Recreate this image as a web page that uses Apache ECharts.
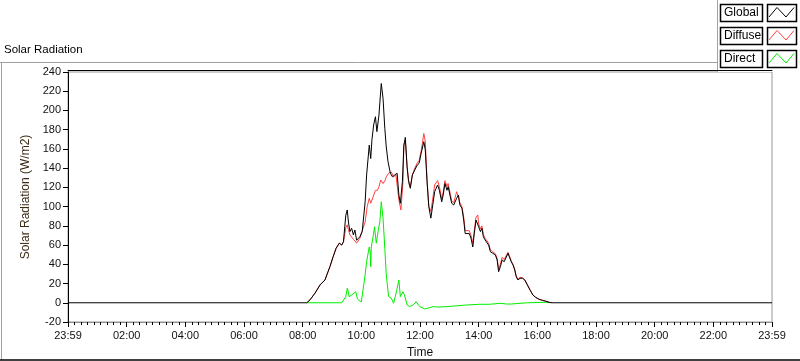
<!DOCTYPE html>
<html>
<head>
<meta charset="utf-8">
<title>Solar Radiation</title>
<script src="https://cdn.jsdelivr.net/npm/echarts@6/dist/echarts.min.js"></script>
<style>
  html, body { margin: 0; padding: 0; background: #fff; }
  #chart { width: 800px; height: 361px; }
</style>
</head>
<body>
<div id="chart"></div>
<script>
// values: [hour of day, W/m2]
const globalData = [
  [0, 0], [8.14, 0], [8.25, 3], [8.42, 10], [8.59, 18.5], [8.76, 23.7], [8.93, 37.6], [9.04, 48],
  [9.14, 56.7], [9.25, 62], [9.33, 60], [9.39, 63.5], [9.47, 91], [9.52, 96.5], [9.56, 84],
  [9.61, 74], [9.67, 77.5], [9.73, 70.5], [9.78, 75.7], [9.84, 65], [9.9, 67], [9.95, 68.7],
  [10.03, 74], [10.13, 105], [10.18, 133], [10.27, 164], [10.32, 150], [10.36, 169], [10.42, 185],
  [10.48, 193.5], [10.53, 178], [10.6, 195], [10.68, 228], [10.74, 212.7], [10.8, 181.5],
  [10.85, 162], [10.91, 146.7], [10.99, 134.7], [11.06, 131], [11.14, 133], [11.22, 134.7],
  [11.28, 112], [11.33, 103.5], [11.4, 126], [11.45, 164], [11.5, 172], [11.56, 141.5],
  [11.61, 126], [11.67, 119], [11.74, 133], [11.82, 138], [11.9, 143], [11.97, 145],
  [12.04, 155.5], [12.13, 167.5], [12.18, 159], [12.24, 126], [12.3, 100], [12.37, 88],
  [12.42, 89.5], [12.5, 115.5], [12.55, 119], [12.6, 122.5], [12.66, 117], [12.74, 105],
  [12.79, 112], [12.85, 124], [12.92, 117], [12.96, 120.7], [13.02, 120.7], [13.08, 103.5],
  [13.15, 101.7], [13.2, 100], [13.25, 108.7], [13.31, 112], [13.36, 101.7], [13.43, 98.3],
  [13.49, 86], [13.54, 72], [13.6, 70.5], [13.68, 72], [13.74, 67], [13.8, 58], [13.85, 72],
  [13.91, 86], [13.97, 88], [14.0, 79], [14.06, 74], [14.11, 77.5], [14.16, 68.7], [14.22, 65.3],
  [14.28, 65.3], [14.34, 60], [14.4, 53], [14.48, 51.5], [14.57, 49.7], [14.63, 44.5],
  [14.68, 32.3], [14.74, 37.5], [14.8, 44.5], [14.87, 42.7], [14.92, 42.7], [15.0, 51.5],
  [15.06, 49.7], [15.11, 42.7], [15.17, 39.3], [15.23, 34], [15.28, 27], [15.34, 23.7],
  [15.41, 25.5], [15.49, 25.5], [15.57, 23.7], [15.66, 18.5], [15.75, 13.3], [15.85, 8],
  [15.94, 5.7], [16.06, 3.6], [16.17, 2.6], [16.29, 1.6], [16.4, 0.5], [16.5, 0], [24, 0]
];

// diffuse and direct only show where they leave the global trace at zero
const diffuseData = [
  [8.14, 0], [8.25, 3], [8.42, 10], [8.59, 18.5], [8.76, 23.7], [8.93, 37.6], [9.04, 48],
  [9.14, 56.7], [9.25, 62], [9.33, 60], [9.39, 63], [9.47, 78], [9.52, 81], [9.56, 76],
  [9.61, 70.5], [9.67, 72], [9.73, 66], [9.78, 64], [9.84, 62], [9.9, 63], [9.95, 67],
  [10.03, 75], [10.13, 84], [10.2, 100], [10.27, 108.7], [10.32, 103.5], [10.4, 110],
  [10.48, 117], [10.55, 117], [10.6, 120.7], [10.66, 127.7], [10.74, 124], [10.82, 127.7],
  [10.85, 131], [10.93, 134.7], [11.02, 136], [11.1, 131], [11.18, 133], [11.28, 107],
  [11.35, 96.5], [11.42, 126], [11.45, 164], [11.5, 168], [11.56, 141.5], [11.61, 128],
  [11.67, 121], [11.74, 133], [11.82, 140], [11.9, 145], [11.97, 148], [12.04, 158],
  [12.13, 176], [12.18, 168], [12.24, 128], [12.3, 100], [12.37, 95], [12.42, 105],
  [12.5, 122.5], [12.55, 122], [12.6, 127], [12.66, 121], [12.74, 108], [12.79, 115],
  [12.85, 127], [12.92, 121], [12.96, 124], [13.02, 123], [13.08, 106], [13.15, 104],
  [13.2, 103], [13.25, 115.5], [13.31, 114], [13.36, 104], [13.43, 100], [13.49, 89],
  [13.54, 75], [13.6, 73], [13.68, 75], [13.74, 70], [13.8, 62], [13.85, 75], [13.91, 89],
  [13.97, 91.3], [14.0, 82], [14.06, 77], [14.11, 80], [14.16, 71], [14.22, 67], [14.28, 67],
  [14.34, 62], [14.4, 55], [14.48, 53], [14.57, 51], [14.63, 46], [14.68, 35], [14.74, 40],
  [14.8, 47.3], [14.87, 45], [14.92, 44], [15.0, 52.5], [15.06, 50.5], [15.11, 43.5],
  [15.17, 40], [15.23, 35], [15.28, 28], [15.34, 24.5], [15.41, 26.5], [15.49, 26],
  [15.57, 24], [15.66, 19], [15.75, 13.5], [15.85, 8], [15.94, 5.7], [16.06, 3.6],
  [16.17, 2.6], [16.29, 1.6], [16.4, 0.5], [16.5, 0]
];

const directData = [
  [8.14, 0], [9.33, 0], [9.4, 3], [9.47, 6.4], [9.52, 15], [9.56, 11], [9.58, 6.4], [9.67, 8],
  [9.73, 6], [9.81, 11.5], [9.86, 4.7], [9.93, 2], [10.0, 1], [10.03, 3], [10.13, 29],
  [10.18, 43], [10.27, 58], [10.3, 53], [10.32, 37.5], [10.34, 58], [10.4, 68.7], [10.45, 79],
  [10.51, 62], [10.57, 74], [10.63, 84], [10.68, 105], [10.74, 88], [10.8, 56.7], [10.85, 29],
  [10.93, 6.4], [11.02, 4.7], [11.1, -0.5], [11.17, 8], [11.22, 15], [11.28, 23.7],
  [11.33, 6.4], [11.42, 11.5], [11.47, 8], [11.56, -2.3], [11.65, -4], [11.76, -2.3],
  [11.87, 1], [11.99, -4], [12.17, -6.5], [12.27, -5.7], [12.44, -4], [12.59, -4.5],
  [12.92, -4], [13.6, -2.3], [14.02, -1.6], [14.36, -1.6], [14.76, -0.5], [14.94, -1.3],
  [15.11, -1.3], [15.66, 0], [16.29, 0.5], [16.4, 0]
];

const xTickLabels = ['23:59', '02:00', '04:00', '06:00', '08:00', '10:00', '12:00',
  '14:00', '16:00', '18:00', '20:00', '22:00', '23:59'];
const legendNames = ['Global', 'Diffuse', 'Direct'];
const lineColors = ['#000000', '#ff4040', '#00ee00'];

const chart = echarts.init(document.getElementById('chart'));
const font = 'Liberation Sans, Arial, sans-serif';

// LabVIEW style legend: a text box and a swatch box per plot
const legendRows = [4, 27, 50];
const legendItems = [];
legendNames.forEach(function (name, i) {
  const y0 = legendRows[i];
  legendItems.push({
    type: 'rect',
    shape: { x: 720.5, y: y0 + 0.5, width: 42, height: 17 },
    style: { fill: '#fff', stroke: '#000', lineWidth: 1.5 }
  });
  legendItems.push({
    type: 'text',
    x: 724, y: y0 + 9,
    style: { text: name, font: '12px ' + font, fill: '#000', verticalAlign: 'middle' }
  });
  legendItems.push({
    type: 'rect',
    shape: { x: 767.5, y: y0 + 0.5, width: 29, height: 17 },
    style: { fill: '#fff', stroke: '#000', lineWidth: 1.5 }
  });
  legendItems.push({
    type: 'polyline',
    shape: { points: [[769, y0 + 13], [777, y0 + 3.5], [786, y0 + 13], [794, y0 + 3.5]] },
    style: { stroke: lineColors[i], lineWidth: 1, fill: null }
  });
});

const option = {
  animation: false,
  backgroundColor: '#fff',
  title: {
    text: 'Solar Radiation',
    left: 4, top: 44, padding: 0,
    textStyle: { fontSize: 11.5, fontWeight: 'normal', color: '#000', fontFamily: font }
  },
  grid: {
    left: 68, right: 28, top: 72, bottom: 39,
    containLabel: false,
    outerBoundsMode: 'none',
    show: true, borderColor: '#999', borderWidth: 1, backgroundColor: '#fff'
  },
  xAxis: [{
    type: 'value',
    min: 0, max: 24, interval: 2,
    axisLine: { show: true, onZero: false, lineStyle: { color: '#8c8c8c' } },
    axisTick: { show: true, length: 5, lineStyle: { color: '#000' } },
    minorTick: { show: true, splitNumber: 9, length: 3, lineStyle: { color: '#000' } },
    splitLine: { show: false },
    axisLabel: {
      formatter: function (v) { return xTickLabels[Math.round(v / 2)]; },
      showMinLabel: true, showMaxLabel: true,
      color: '#111', fontSize: 11, fontFamily: font, margin: 8
    },
    name: 'Time',
    nameLocation: 'middle',
    nameGap: 25,
    nameTextStyle: { color: '#111', fontSize: 12, fontFamily: font }
  }, {
    type: 'value',
    position: 'top',
    offset: 2,
    min: 0, max: 24,
    axisLine: { show: true, onZero: false, lineStyle: { color: '#000' } },
    axisTick: { show: false },
    axisLabel: { show: false },
    splitLine: { show: false }
  }],
  yAxis: {
    type: 'value',
    min: -20, max: 240, interval: 20,
    axisLine: { show: true, lineStyle: { color: '#000' } },
    axisTick: { show: true, length: 5, lineStyle: { color: '#000' } },
    splitLine: { show: false },
    axisLabel: { color: '#111', fontSize: 11, fontFamily: font, margin: 7 },
    name: 'Solar Radiation (W/m2)',
    nameLocation: 'middle',
    nameGap: 28,
    nameTextStyle: { color: '#3a2a14', fontSize: 12, fontFamily: font }
  },
  series: [
    {
      name: 'Direct', type: 'line', data: directData, showSymbol: false, z: 2,
      lineStyle: { color: lineColors[2], width: 1 }
    },
    {
      name: 'Diffuse', type: 'line', data: diffuseData, showSymbol: false, z: 3,
      lineStyle: { color: lineColors[1], width: 1 }
    },
    {
      name: 'Global', type: 'line', data: globalData, showSymbol: false, z: 4,
      lineStyle: { color: lineColors[0], width: 1 }
    }
  ],
  graphic: [
    { type: 'line', shape: { x1: 0, y1: 62.5, x2: 717, y2: 62.5 }, style: { stroke: '#a0a0a0', lineWidth: 1 } },
    { type: 'line', shape: { x1: 1.5, y1: 62, x2: 1.5, y2: 360 }, style: { stroke: '#a0a0a0', lineWidth: 1 } },
    { type: 'line', shape: { x1: 0, y1: 360, x2: 800, y2: 360 }, style: { stroke: '#000', lineWidth: 1.5 } },
    {
      type: 'group', z: 100,
      children: [
        { type: 'rect', shape: { x: 717, y: 0, width: 83, height: 72 }, style: { fill: '#fff' } },
        { type: 'line', shape: { x1: 717.5, y1: 0, x2: 717.5, y2: 72 }, style: { stroke: '#a0a0a0', lineWidth: 1 } }
      ].concat(legendItems)
    }
  ]
};

chart.setOption(option);
</script>
</body>
</html>
